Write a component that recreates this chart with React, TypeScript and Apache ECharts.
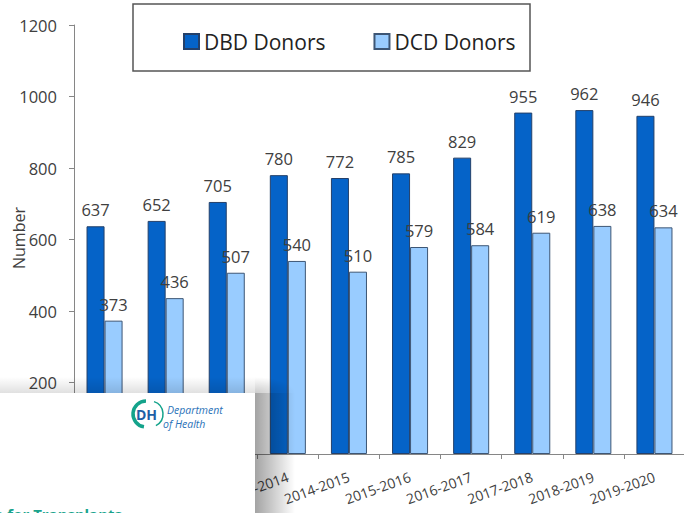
import React, { useEffect, useRef } from "react";
import * as echarts from "echarts";

const categories = [
  "2010-2011", "2011-2012", "2012-2013", "2013-2014", "2014-2015",
  "2015-2016", "2016-2017", "2017-2018", "2018-2019", "2019-2020",
];
const dbdDonors = [637, 652, 705, 780, 772, 785, 829, 955, 962, 946];
const dcdDonors = [373, 436, 507, 540, 510, 579, 584, 619, 638, 634];
const yTicks = { min: 0, max: 1200, interval: 200 };
const yAxisTitle = "Number";

const FONT = "'Open Sans', 'Liberation Sans', sans-serif";
const TXT = "#404040";

export default function App() {
  const ref = useRef<HTMLDivElement>(null);
  useEffect(() => {
    const chart = echarts.init(ref.current!, null, { renderer: "svg" });
    const labelStyle = {
      show: true,
      position: "top",
      distance: 8,
      fontSize: 16.5,
      color: TXT,
      fontFamily: FONT,
    };
    chart.setOption({
      animation: false,
      backgroundColor: "#ffffff",
      textStyle: { fontFamily: FONT },
      grid: {
        left: 74,
        top: 25,
        width: 611,
        height: 429,
        containLabel: false,
        outerBoundsMode: "none",
      },
      legend: {
        left: 178,
        top: 26,
        icon: "rect",
        itemWidth: 15,
        itemHeight: 15,
        itemGap: 48,
        textStyle: { fontSize: 21, color: "#222", fontFamily: FONT, padding: [0, 0, 0, 0] },
        data: ["DBD Donors", "DCD Donors"],
      },
      xAxis: {
        type: "category",
        data: categories,
        axisLine: { lineStyle: { color: "#868686", width: 1 } },
        axisTick: { show: true, length: 5, lineStyle: { color: "#868686" } },
        axisLabel: { rotate: 20, fontSize: 14, color: TXT, margin: 22, fontFamily: FONT, interval: 0 },
      },
      yAxis: {
        type: "value",
        min: yTicks.min,
        max: yTicks.max,
        interval: yTicks.interval,
        splitLine: { show: false },
        axisLine: { show: true, lineStyle: { color: "#868686", width: 1 } },
        axisTick: { show: true, length: 5, lineStyle: { color: "#868686" } },
        axisLabel: {
          fontSize: 16.5,
          color: TXT,
          margin: 17,
          fontFamily: FONT,
          formatter: (v: number) => String(v),
        },
      },
      series: [
        {
          name: "DBD Donors",
          type: "bar",
          data: dbdDonors,
          barGap: "0%",
          barCategoryGap: "41%",
          itemStyle: { color: "#0563C8", borderColor: "#24406a", borderWidth: 1 },
          label: labelStyle,
        },
        {
          name: "DCD Donors",
          type: "bar",
          data: dcdDonors,
          itemStyle: { color: "#99CCFF", borderColor: "#3d5675", borderWidth: 1 },
          label: labelStyle,
        },
      ],
      graphic: [
        {
          type: "text",
          z: 20,
          x: 19,
          y: 238,
          rotation: Math.PI / 2,
          style: {
            text: yAxisTitle,
            align: "center",
            verticalAlign: "middle",
            fill: TXT,
            font: "16px 'Open Sans', sans-serif",
          },
        },
        {
          type: "rect",
          z: 50,
          shape: { x: 133, y: 4, width: 397, height: 67 },
          style: { fill: "none", stroke: "#555", lineWidth: 1.5 },
        },
        {
          type: "rect",
          z: 90,
          shape: { x: 0, y: 377, width: 255, height: 16 },
          style: {
            fill: new echarts.graphic.LinearGradient(0, 0, 0, 1, [
              { offset: 0, color: "rgba(0,0,0,0)" },
              { offset: 1, color: "rgba(0,0,0,0.12)" },
            ]),
          },
        },
        {
          type: "rect",
          z: 90,
          shape: { x: 255, y: 393, width: 40, height: 120 },
          style: {
            fill: new echarts.graphic.LinearGradient(0, 0, 1, 0, [
              { offset: 0, color: "rgba(0,0,0,0.36)" },
              { offset: 1, color: "rgba(0,0,0,0)" },
            ]),
          },
        },
        {
          type: "rect",
          z: 90,
          shape: { x: 255, y: 377, width: 40, height: 16 },
          style: {
            fill: new echarts.graphic.RadialGradient(0, 1, 1, [
              { offset: 0, color: "rgba(0,0,0,0.2)" },
              { offset: 1, color: "rgba(0,0,0,0)" },
            ]),
          },
        },
        {
          type: "rect",
          z: 100,
          shape: { x: 0, y: 393, width: 255, height: 120 },
          style: { fill: "#ffffff" },
        },
        {
          type: "arc",
          z: 101,
          shape: { cx: 146, cy: 414, r: 13, startAngle: Math.PI * 0.55, endAngle: Math.PI * 1.5 },
          style: { stroke: "#14a38b", lineWidth: 3.5, fill: "none" },
        },
        {
          type: "arc",
          z: 101,
          shape: { cx: 150, cy: 414, r: 13, startAngle: -Math.PI * 0.4, endAngle: Math.PI * 0.35 },
          style: { stroke: "#14a38b", lineWidth: 1.5, fill: "none" },
        },
        {
          type: "text",
          z: 102,
          style: {
            text: "DH",
            x: 136,
            y: 414,
            verticalAlign: "middle",
            fill: "#1d5fa6",
            font: "bold 14px 'Open Sans', sans-serif",
          },
        },
        {
          type: "text",
          z: 102,
          style: {
            text: "Department",
            x: 167,
            y: 410,
            verticalAlign: "middle",
            fill: "#2a72b8",
            font: "italic 10.5px 'Open Sans', sans-serif",
          },
        },
        {
          type: "text",
          z: 102,
          style: {
            text: "of Health",
            x: 163,
            y: 424,
            verticalAlign: "middle",
            fill: "#2a72b8",
            font: "italic 10.5px 'Open Sans', sans-serif",
          },
        },
        {
          type: "text",
          z: 102,
          style: {
            text: "ce for Transplants",
            x: 122,
            y: 506,
            align: "right",
            fill: "#1aa38c",
            font: "bold 15px 'Open Sans', sans-serif",
          },
        },
      ],
    });
    return () => chart.dispose();
  }, []);
  return (
    <div
      ref={ref}
      style={{ position: "fixed", left: 0, top: 0, width: 684, height: 513 }}
    />
  );
}
